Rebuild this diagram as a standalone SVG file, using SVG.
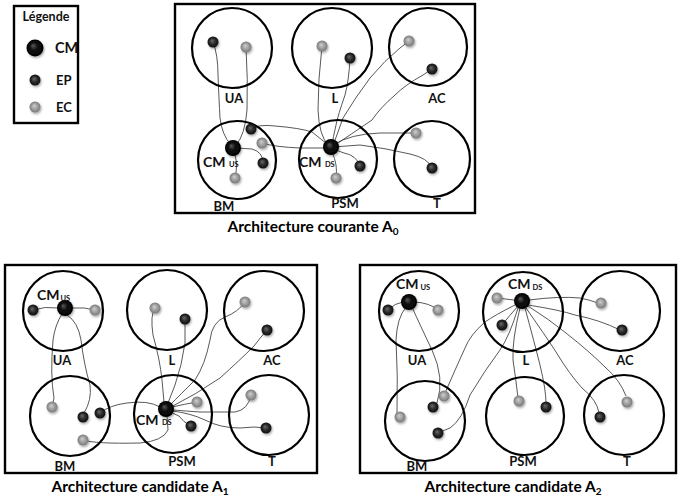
<svg xmlns="http://www.w3.org/2000/svg" width="692" height="502" viewBox="0 0 692 502">
<defs>
<radialGradient id="gCM" cx="0.5" cy="0.5" r="0.5" fx="0.38" fy="0.35">
<stop offset="0" stop-color="#5a5a5a"/><stop offset="0.45" stop-color="#111"/><stop offset="1" stop-color="#000"/>
</radialGradient>
<radialGradient id="gEP" cx="0.5" cy="0.5" r="0.5" fx="0.4" fy="0.38">
<stop offset="0" stop-color="#6a6a6a"/><stop offset="0.6" stop-color="#262626"/><stop offset="1" stop-color="#111"/>
</radialGradient>
<radialGradient id="gEC" cx="0.5" cy="0.5" r="0.5" fx="0.42" fy="0.38">
<stop offset="0" stop-color="#cfcfcf"/><stop offset="0.6" stop-color="#9a9a9a"/><stop offset="1" stop-color="#7a7a7a"/>
</radialGradient>
<filter id="sh" x="-50%" y="-50%" width="200%" height="200%">
<feDropShadow dx="1" dy="1.5" stdDeviation="1.2" flood-color="#000" flood-opacity="0.35"/>
</filter>
</defs>
<style>
.frame{fill:#fff;stroke:#000;stroke-width:2.4}
.ring{fill:none;stroke:#000;stroke-width:2.2}
.lbl{font-family:Lato,"Liberation Sans",sans-serif;font-weight:700;font-size:13px;fill:#111;text-anchor:middle}
.cm{font-family:Lato,"Liberation Sans",sans-serif;font-weight:700;font-size:14px;fill:#111}
.sub{font-size:7.5px}
.title{font-family:Lato,"Liberation Sans",sans-serif;font-weight:700;font-size:15.5px;fill:#000;text-anchor:middle}
.cmb{fill:url(#gCM);filter:url(#sh)}
.ep{fill:url(#gEP);filter:url(#sh)}
.ec{fill:url(#gEC);filter:url(#sh)}
.wire{fill:none;stroke:#3a3a3a;stroke-width:0.85}
</style>

<rect x="0" y="0" width="692" height="502" fill="#fff"/>

<!-- Legend -->
<g id="legend">
<rect class="frame" x="14" y="6" width="64" height="117"/>
<text class="lbl" x="46" y="21" style="font-size:12.5px">Légende</text>
<circle class="cmb" cx="35" cy="48" r="8.5"/>
<text class="cm" x="55" y="53" style="font-size:14.5px">CM</text>
<circle class="ep" cx="35" cy="80" r="5.5"/>
<text class="cm" x="56" y="85" style="font-size:13px">EP</text>
<circle class="ec" cx="35" cy="107" r="5.5"/>
<text class="cm" x="56" y="112" style="font-size:13px">EC</text>
</g>

<!-- ===== A0 ===== -->
<g id="A0">
<rect class="frame" x="175" y="4" width="300" height="209"/>
<text class="title" x="313" y="232">Architecture courante A<tspan style="font-size:10px" dy="3">0</tspan></text>
</g>

<g id="A0-connectors">
<path class="wire" d="M213,42 Q218,55 218,75 Q219,100 220,118 Q222,135 231,145"/>
<path class="wire" d="M246,47 Q248,80 247,110 Q245,135 236,145"/>
<path class="wire" d="M322,46 Q318,80 318,110 Q319,135 328,145"/>
<path class="wire" d="M350,58 Q349,80 345,95 Q338,115 336,125 Q333,138 332,145"/>
<path class="wire" d="M409,41 L400,48 Q385,60 370,78 Q355,98 343,118 L334,143"/>
<path class="wire" d="M432,69 L423,75 Q405,85 395,95 Q380,108 372,120 Q350,135 335,145"/>
<path class="wire" d="M251,129 Q258,124 275,126 Q300,128 312,132 Q322,140 331,147"/>
<path class="wire" d="M262,143 Q275,147 300,148 L330,148"/>
<path class="wire" d="M263,163 Q263,152 252,149 L236,148"/>
<path class="wire" d="M235,178 Q238,165 235,155"/>
<path class="wire" d="M360,166 Q356,155 344,153 L333,149"/>
<path class="wire" d="M336,178 Q338,165 332,152"/>
<path class="wire" d="M416,133 L380,133 Q350,134 333,145"/>
<path class="wire" d="M432,168 Q428,158 410,154 Q385,148 360,145 L333,147"/>
</g>

<g id="A0-UA">
<circle class="ring" cx="232" cy="48" r="40"/>
<text class="lbl" x="234" y="103">UA</text>
<circle class="ep" cx="213" cy="42" r="5.5"/>
<circle class="ec" cx="246" cy="47" r="5.5"/>
</g>
<g id="A0-L">
<circle class="ring" cx="332" cy="48" r="40"/>
<text class="lbl" x="335" y="103">L</text>
<circle class="ec" cx="322" cy="46" r="5.5"/>
<circle class="ep" cx="350" cy="58" r="5.5"/>
</g>
<g id="A0-AC">
<circle class="ring" cx="428" cy="47" r="39"/>
<text class="lbl" x="437" y="103">AC</text>
<circle class="ec" cx="409" cy="41" r="5.5"/>
<circle class="ep" cx="432" cy="69" r="5.5"/>
</g>
<g id="A0-BM">
<circle class="ring" cx="237" cy="160" r="39"/>
<text class="lbl" x="224" y="211">BM</text>
<circle class="ep" cx="251" cy="129" r="5.5"/>
<circle class="ec" cx="262" cy="143" r="5.5"/>
<circle class="ep" cx="263" cy="163" r="5.5"/>
<circle class="ec" cx="235" cy="178" r="5.5"/>
<circle class="cmb" cx="233" cy="148" r="8"/>
<text class="cm" x="203" y="167">CM <tspan class="sub">US</tspan></text>
</g>
<g id="A0-PSM">
<circle class="ring" cx="338" cy="159" r="39"/>
<text class="lbl" x="345" y="208">PSM</text>
<circle class="ep" cx="360" cy="166" r="5.5"/>
<circle class="ec" cx="336" cy="178" r="5.5"/>
<circle class="cmb" cx="331" cy="147" r="8"/>
<text class="cm" x="299" y="167">CM <tspan class="sub">DS</tspan></text>
</g>
<g id="A0-T">
<circle class="ring" cx="432" cy="159" r="38"/>
<text class="lbl" x="437" y="208">T</text>
<circle class="ec" cx="416" cy="133" r="5.5"/>
<circle class="ep" cx="432" cy="168" r="5.5"/>
</g>

<!-- ===== A1 ===== -->
<g id="A1">
<rect class="frame" x="5" y="265" width="312" height="208"/>
<text class="title" x="140" y="492">Architecture candidate A<tspan style="font-size:10px" dy="3">1</tspan></text>
</g>

<g id="A1-connectors">
<path class="wire" d="M33,310 Q45,306 58,308"/>
<path class="wire" d="M95,310 Q85,307 72,308"/>
<path class="wire" d="M62,314 Q55,325 53,340 Q50,375 54,398 L52,407"/>
<path class="wire" d="M67,315 Q78,322 81,340 Q84,365 90,385 Q92,400 84,413"/>
<path class="wire" d="M155,308 Q150,315 153,335 Q160,360 162,380 L164,402"/>
<path class="wire" d="M185,319 L185,343 Q182,365 175,385 L168,403"/>
<path class="wire" d="M245,302 Q238,312 225,317 Q212,322 210,340 Q205,365 195,380 Q180,395 170,405"/>
<path class="wire" d="M267,330 Q260,338 254,346 Q240,360 220,378 Q195,395 171,407"/>
<path class="wire" d="M100,413 Q110,405 127,403 Q148,400 160,407"/>
<path class="wire" d="M83,440 Q95,444 140,443 Q163,441 168,430 L167,416"/>
<path class="wire" d="M197,402 Q185,404 172,407"/>
<path class="wire" d="M191,426 Q183,422 179,416 L170,412"/>
<path class="wire" d="M251,395 Q248,410 235,412 L200,412 Q185,411 173,410"/>
<path class="wire" d="M266,428 Q255,426 240,428 Q220,428 205,420 Q190,413 172,411"/>
</g>

<g id="A1-UA">
<circle class="ring" cx="63" cy="311" r="40"/>
<text class="lbl" x="62" y="365">UA</text>
<circle class="ep" cx="33" cy="310" r="5.5"/>
<circle class="ec" cx="95" cy="310" r="5.5"/>
<circle class="cmb" cx="65" cy="308" r="8"/>
<text class="cm" x="37" y="300">CM<tspan class="sub" dx="1" dy="1">US</tspan></text>
</g>
<g id="A1-L">
<circle class="ring" cx="167" cy="310" r="40"/>
<text class="lbl" x="172" y="365">L</text>
<circle class="ec" cx="155" cy="308" r="5.5"/>
<circle class="ep" cx="185" cy="319" r="5.5"/>
</g>
<g id="A1-AC">
<circle class="ring" cx="264" cy="311" r="40"/>
<text class="lbl" x="272" y="365">AC</text>
<circle class="ec" cx="245" cy="302" r="5.5"/>
<circle class="ep" cx="267" cy="330" r="5.5"/>
</g>
<g id="A1-BM">
<circle class="ring" cx="70" cy="416" r="40"/>
<text class="lbl" x="65" y="471">BM</text>
<circle class="ec" cx="52" cy="407" r="5.5"/>
<circle class="ep" cx="83" cy="417" r="5.5"/>
<circle class="ep" cx="100" cy="413" r="5.5"/>
<circle class="ec" cx="83" cy="440" r="5.5"/>
</g>
<g id="A1-PSM">
<circle class="ring" cx="173" cy="414" r="39"/>
<text class="lbl" x="182" y="466">PSM</text>
<circle class="ec" cx="197" cy="402" r="5.5"/>
<circle class="ep" cx="191" cy="426" r="5.5"/>
<circle class="cmb" cx="166" cy="409" r="8"/>
<text class="cm" x="136" y="425">CM <tspan class="sub">DS</tspan></text>
</g>
<g id="A1-T">
<circle class="ring" cx="269" cy="415" r="40"/>
<text class="lbl" x="272" y="466">T</text>
<circle class="ec" cx="251" cy="395" r="5.5"/>
<circle class="ep" cx="266" cy="428" r="5.5"/>
</g>

<!-- ===== A2 ===== -->
<g id="A2">
<rect class="frame" x="360" y="265" width="316" height="208"/>
<text class="title" x="513" y="492">Architecture candidate A<tspan style="font-size:10px" dy="3">2</tspan></text>
</g>

<g id="A2-connectors">
<path class="wire" d="M388,310 Q395,303 403,302"/>
<path class="wire" d="M438,310 Q430,303 415,302"/>
<path class="wire" d="M406,307 Q397,318 396,340 Q398,375 397,413"/>
<path class="wire" d="M412,307 Q420,325 432,350 Q445,378 437,403"/>
<path class="wire" d="M515,305 Q495,315 485,322 Q470,335 465,348 Q455,370 445,393"/>
<path class="wire" d="M518,308 Q510,335 500,350 Q485,370 470,395 Q462,420 450,428 L440,432"/>
<path class="wire" d="M497,298 L514,300"/>
<path class="wire" d="M502,325 Q510,315 518,306"/>
<path class="wire" d="M520,308 Q512,340 513,360 Q516,380 518,398"/>
<path class="wire" d="M525,308 Q535,345 540,365 Q546,390 546,403"/>
<path class="wire" d="M529,300 Q560,296 580,298 Q590,300 598,303"/>
<path class="wire" d="M528,305 Q560,310 575,315 Q600,320 620,330"/>
<path class="wire" d="M526,308 Q545,335 556,352 Q570,375 582,388 Q597,400 599,413"/>
<path class="wire" d="M528,306 Q550,320 566,333 Q590,352 605,367 Q620,380 626,396"/>
</g>

<g id="A2-UA">
<circle class="ring" cx="419" cy="311" r="40"/>
<text class="lbl" x="417" y="365">UA</text>
<circle class="ep" cx="388" cy="310" r="5.5"/>
<circle class="ec" cx="438" cy="310" r="5.5"/>
<circle class="cmb" cx="409" cy="302" r="8"/>
<text class="cm" x="396" y="289">CM<tspan class="sub" dx="2" dy="1">US</tspan></text>
</g>
<g id="A2-L">
<circle class="ring" cx="523" cy="312" r="40"/>
<text class="lbl" x="526" y="365">L</text>
<circle class="ec" cx="497" cy="298" r="5.5"/>
<circle class="ep" cx="502" cy="325" r="5.5"/>
<circle class="cmb" cx="522" cy="301" r="8"/>
<text class="cm" x="508" y="289">CM<tspan class="sub" dx="2" dy="1">DS</tspan></text>
</g>
<g id="A2-AC">
<circle class="ring" cx="620" cy="311" r="40"/>
<text class="lbl" x="625" y="365">AC</text>
<circle class="ec" cx="601" cy="303" r="5.5"/>
<circle class="ep" cx="622" cy="330" r="5.5"/>
</g>
<g id="A2-BM">
<circle class="ring" cx="425" cy="421" r="40"/>
<text class="lbl" x="417" y="471">BM</text>
<circle class="ec" cx="400" cy="417" r="5.5"/>
<circle class="ep" cx="433" cy="407" r="5.5"/>
<circle class="ec" cx="444" cy="396" r="5.5"/>
<circle class="ep" cx="438" cy="433" r="5.5"/>
</g>
<g id="A2-PSM">
<circle class="ring" cx="525" cy="416" r="39"/>
<text class="lbl" x="523" y="466">PSM</text>
<circle class="ec" cx="519" cy="401" r="5.5"/>
<circle class="ep" cx="546" cy="407" r="5.5"/>
</g>
<g id="A2-T">
<circle class="ring" cx="624" cy="415" r="40"/>
<text class="lbl" x="627" y="466">T</text>
<circle class="ep" cx="600" cy="417" r="5.5"/>
<circle class="ec" cx="627" cy="402" r="5.5"/>
</g>
</svg>
